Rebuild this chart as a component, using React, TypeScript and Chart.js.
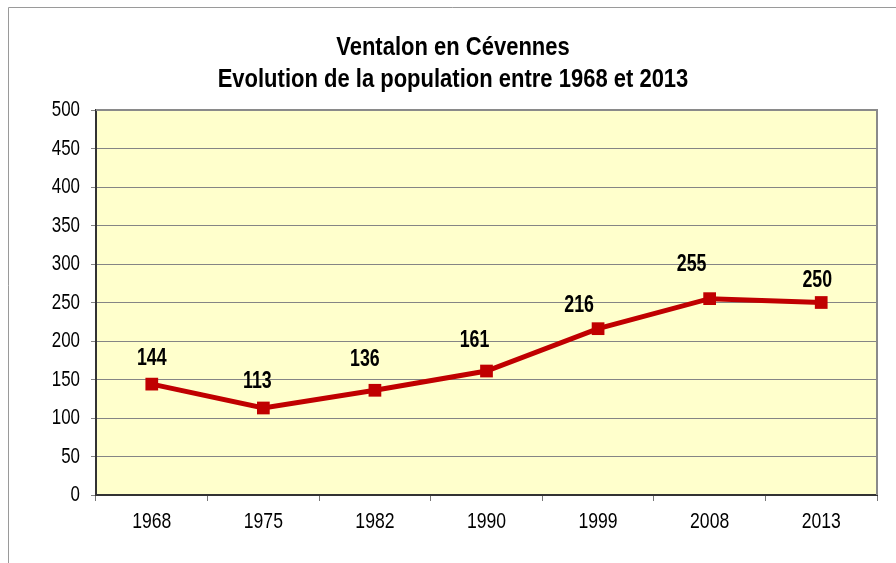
import React, { useEffect, useRef } from "react";
import { Chart, registerables } from "chart.js";

Chart.register(...registerables);

const categories = ["1968", "1975", "1982", "1990", "1999", "2008", "2013"];
const population = [144, 113, 136, 161, 216, 255, 250];
const titleLines = ["Ventalon en Cévennes", "Evolution de la population entre 1968 et 2013"];
const yMin = 0;
const yMax = 500;
const yStep = 50;
// label nudges (dx, dy in px) relative to each point, as placed in the reference
const labelDx = [0, -6, -10, -12, -19, -18, -4];
const labelDy = [-26, -27, -31, -31, -23, -34, -22];

const BASE = '"Liberation Sans", Arial, sans-serif';

function narrowText(
  ctx: CanvasRenderingContext2D,
  text: string,
  x: number,
  y: number,
  size: number,
  bold: boolean,
  align: CanvasTextAlign,
  sx: number
) {
  ctx.save();
  ctx.font = `${bold ? "bold " : ""}${size}px ${BASE}`;
  ctx.textAlign = align;
  ctx.textBaseline = "middle";
  ctx.fillStyle = "#000";
  ctx.translate(x, y);
  ctx.scale(sx, 1);
  ctx.fillText(text, 0, 0);
  ctx.restore();
}

const decorPlugin = {
  id: "decor",
  beforeDraw(chart: any) {
    const { ctx, chartArea } = chart;
    ctx.save();
    ctx.strokeStyle = "#9a9a9a";
    ctx.lineWidth = 1;
    ctx.beginPath();
    ctx.moveTo(8.5, chart.height);
    ctx.lineTo(8.5, 7.5);
    ctx.lineTo(chart.width, 7.5);
    ctx.stroke();
    ctx.fillStyle = "#FFFFCC";
    ctx.fillRect(chartArea.left, chartArea.top, chartArea.right - chartArea.left, chartArea.bottom - chartArea.top);
    ctx.restore();
  },
  beforeDatasetsDraw(chart: any) {
    const { ctx, chartArea } = chart;
    ctx.save();
    ctx.strokeStyle = "#8a8a8a";
    ctx.lineWidth = 2;
    ctx.beginPath();
    ctx.moveTo(chartArea.left, chartArea.top);
    ctx.lineTo(chartArea.right, chartArea.top);
    ctx.lineTo(chartArea.right, chartArea.bottom);
    ctx.stroke();
    ctx.restore();
  },
  afterDatasetsDraw(chart: any) {
    const { ctx } = chart;
    const meta = chart.getDatasetMeta(0);
    meta.data.forEach((pt: any, i: number) => {
      narrowText(ctx, String(population[i]), pt.x + labelDx[i], pt.y + labelDy[i], 24, true, "center", 0.74);
    });
  },
  afterDraw(chart: any) {
    const { ctx, chartArea } = chart;
    narrowText(ctx, titleLines[0], 453, 48, 25, true, "center", 0.88);
    narrowText(ctx, titleLines[1], 453, 80, 25, true, "center", 0.88);
    const ys = chart.scales.y;
    ys.ticks.forEach((t: any, i: number) => {
      narrowText(ctx, String(t.value), chartArea.left - 16, ys.getPixelForTick(i), 22, false, "right", 0.77);
    });
    const xs = chart.scales.x;
    xs.ticks.forEach((t: any, i: number) => {
      narrowText(ctx, String(xs.getLabelForValue(t.value)), xs.getPixelForTick(i), chartArea.bottom + 27, 22, false, "center", 0.8);
    });
  },
};

export default function App() {
  const ref = useRef<HTMLCanvasElement | null>(null);
  useEffect(() => {
    if (!ref.current) return;
    const chart = new Chart(ref.current, {
      type: "line",
      data: {
        labels: categories,
        datasets: [
          {
            data: population,
            borderColor: "#C00000",
            backgroundColor: "#C00000",
            borderWidth: 5,
            pointStyle: "rect",
            pointRadius: 9,
            pointHoverRadius: 9,
            pointBorderWidth: 0,
            tension: 0,
          },
        ],
      },
      options: {
        animation: false,
        responsive: false,
        events: [],
        layout: { padding: { left: 29, right: 19, top: 110, bottom: 0 } },
        plugins: {
          legend: { display: false },
          tooltip: { enabled: false },
          title: { display: false },
        },
        scales: {
          x: {
            type: "category",
            offset: true,
            grid: {
              offset: true,
              drawOnChartArea: false,
              drawTicks: true,
              tickLength: 6,
              color: "#777",
              lineWidth: 1,
            },
            border: { display: true, color: "#333", width: 2 },
            ticks: { color: "rgba(0,0,0,0)", font: { size: 12 }, padding: 10, maxRotation: 0, autoSkip: false },
            afterFit(scale: any) {
              scale.height = 68;
            },
          },
          y: {
            min: yMin,
            max: yMax,
            grid: { color: "#858585", lineWidth: 1, tickLength: 5, drawTicks: true },
            border: { display: true, color: "#333", width: 2 },
            ticks: { stepSize: yStep, color: "rgba(0,0,0,0)", font: { size: 12 }, padding: 11 },
            afterFit(scale: any) {
              scale.width = 67;
            },
          },
        },
      },
      plugins: [decorPlugin],
    });
    return () => chart.destroy();
  }, []);
  return (
    <div style={{ position: "fixed", left: 0, top: 0, width: 896, height: 563, background: "#fff" }}>
      <canvas ref={ref} width={896} height={563} style={{ display: "block", width: 896, height: 563 }} />
    </div>
  );
}
